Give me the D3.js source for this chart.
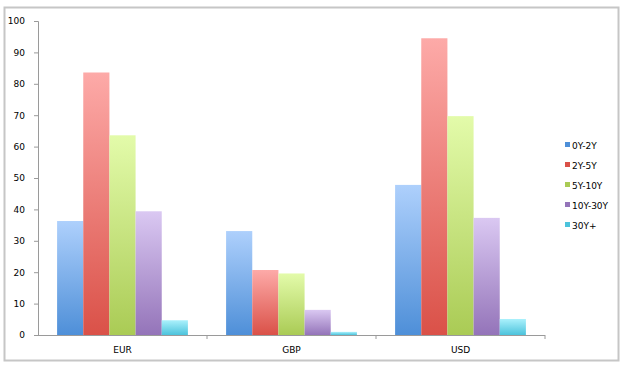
<!DOCTYPE html>
<html>
<head>
<meta charset="utf-8">
<script src="https://cdn.jsdelivr.net/npm/d3@7"></script>
<style>
  body { margin: 0; background: #fff; }
  text { font-family: "DejaVu Sans", sans-serif; font-size: 9px; fill: #000; }
</style>
</head>
<body>
<div id="chart"></div>
<script>
const categories = ['EUR', 'GBP', 'USD']
const seriesNames = ['0Y-2Y', '2Y-5Y', '5Y-10Y', '10Y-30Y', '30Y+']
const eurValues = [36.3, 83.6, 63.6, 39.4, 4.7]
const gbpValues = [33.1, 20.7, 19.6, 8.0, 1.0]
const usdValues = [47.8, 94.5, 69.7, 37.3, 5.1]
const yTicks = [0, 10, 20, 30, 40, 50, 60, 70, 80, 90, 100]

const colors = [
    ['#aed0fc', '#4e8fd8'],
    ['#fdaaa8', '#da5148'],
    ['#e3fbaa', '#aacb55'],
    ['#dac8f2', '#9474b9'],
    ['#abf1fc', '#4cc3dc'],
]

const data = categories.map((c, i) => ({
    cat: c,
    values: [eurValues, gbpValues, usdValues][i]
}))

const width = 626, height = 370
const margin = { top: 21, right: 81, bottom: 35, left: 38 }
const w = width - margin.left - margin.right
const h = height - margin.top - margin.bottom

const svg = d3.select('#chart').append('svg')
    .attr('width', width)
    .attr('height', height)

// outer frame
svg.append('rect')
    .attr('x', 4.5).attr('y', 7.5)
    .attr('width', 614).attr('height', 353)
    .attr('fill', 'none')
    .attr('stroke', '#c6c6c6')
    .attr('stroke-width', 2)

const defs = svg.append('defs')
colors.forEach((c, i) => {
    const g = defs.append('linearGradient')
        .attr('id', 'grad' + i)
        .attr('x1', 0).attr('y1', 0).attr('x2', 0).attr('y2', 1)
    g.append('stop').attr('offset', '0%').attr('stop-color', c[0])
    g.append('stop').attr('offset', '100%').attr('stop-color', c[1])
})

const g = svg.append('g')
    .attr('transform', 'translate(' + margin.left + ',' + margin.top + ')')

const x = d3.scaleBand()
    .domain(categories)
    .range([0, w])
    .paddingInner(0)
    .paddingOuter(0)

const x1 = d3.scaleBand()
    .domain(seriesNames)
    .range([0, x.bandwidth()])
    .paddingOuter(0.73)
    .paddingInner(0)

const y = d3.scaleLinear()
    .domain([0, 100])
    .range([h, 0])

// bars
const groups = g.selectAll('.cat')
    .data(data)
    .enter().append('g')
        .attr('class', 'cat')
        .attr('transform', d => 'translate(' + x(d.cat) + ',0)')

groups.selectAll('rect')
    .data(d => d.values.map((v, i) => ({ name: seriesNames[i], i, v })))
    .enter().append('rect')
        .attr('x', d => x1(d.name))
        .attr('y', d => y(d.v))
        .attr('width', x1.bandwidth())
        .attr('height', d => h - y(d.v))
        .attr('fill', d => 'url(#grad' + d.i + ')')

// y axis
const yAxis = d3.axisLeft(y)
    .tickValues(yTicks)
    .tickSize(4)
    .tickPadding(9)

const ya = g.append('g').call(yAxis)
ya.select('.domain').attr('stroke', '#9a9a9a').attr('d', 'M-4,0.5H0.5V' + (h + 0.5))
ya.selectAll('.tick line').attr('stroke', '#9a9a9a')
ya.selectAll('text').style('font-size', '9px').attr('fill', '#000')

// x axis
const xAxis = d3.axisBottom(x)
    .tickSize(0)
    .tickPadding(12)

const xa = g.append('g')
    .attr('transform', 'translate(0,' + h + ')')
    .call(xAxis)
xa.select('.domain').attr('stroke', '#9a9a9a').attr('d', 'M0,0.5H' + w)
xa.selectAll('text').style('font-size', '9px').attr('fill', '#000')

// category separator ticks
xa.selectAll('.sep')
    .data(categories.slice(1).concat(['end']))
    .enter().append('line')
        .attr('class', 'sep')
        .attr('x1', (d, i) => i < 2 ? x(d) : w)
        .attr('x2', (d, i) => i < 2 ? x(d) : w)
        .attr('y1', 0).attr('y2', 4)
        .attr('stroke', '#9a9a9a')

// legend
const legend = svg.append('g')
    .attr('transform', 'translate(565,145)')

const items = legend.selectAll('.item')
    .data(seriesNames)
    .enter().append('g')
        .attr('class', 'item')
        .attr('transform', (d, i) => 'translate(0,' + (i * 20) + ')')

items.append('rect')
    .attr('x', 0).attr('y', -3)
    .attr('width', 5).attr('height', 5)
    .attr('fill', (d, i) => colors[i][1])

items.append('text')
    .attr('x', 7)
    .attr('y', 3.5)
    .text(d => d)
</script>
</body>
</html>
